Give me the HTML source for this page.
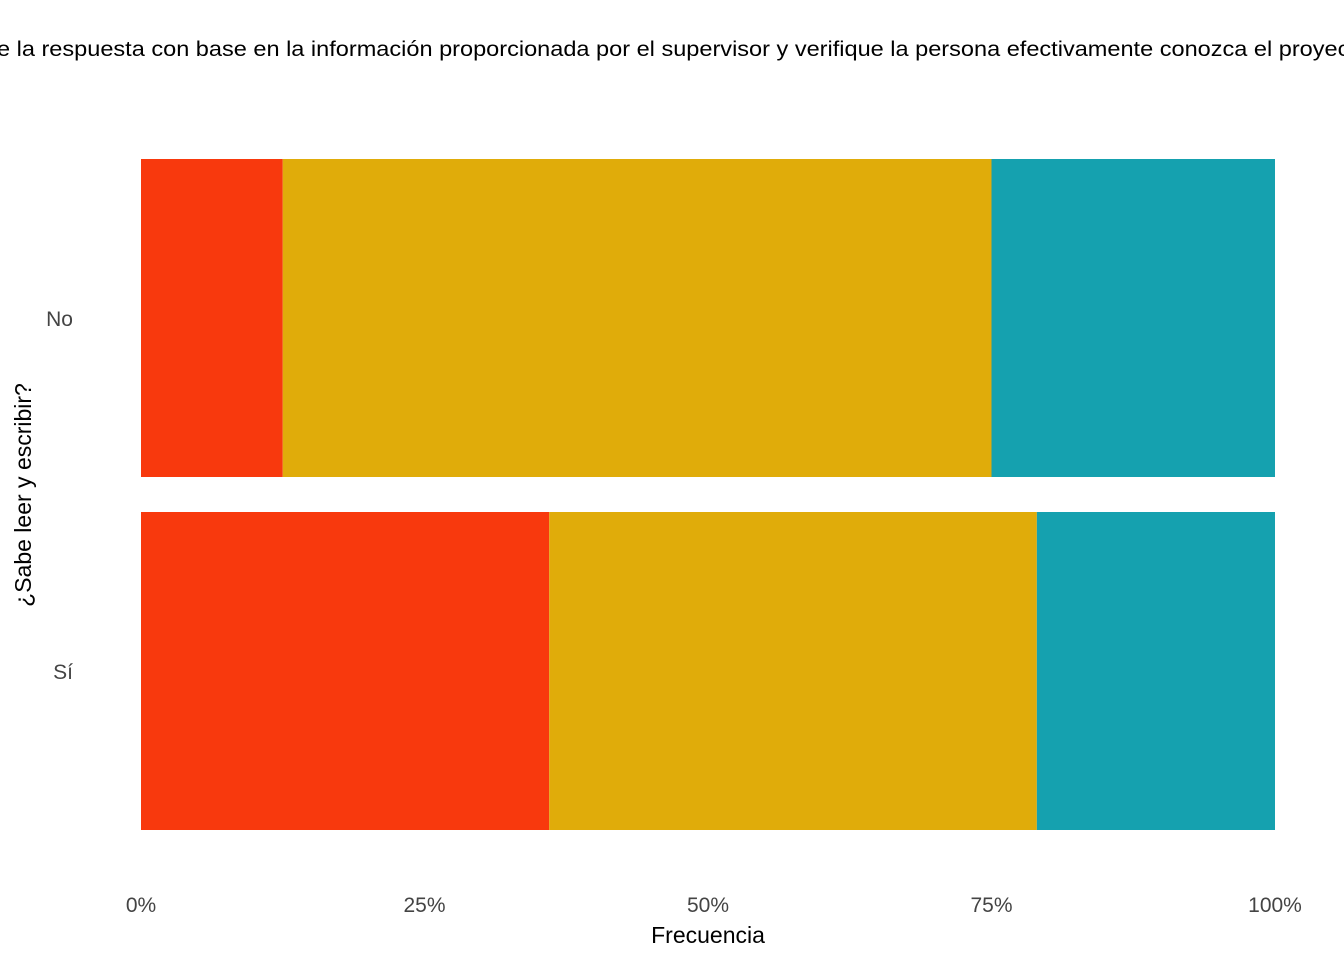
<!DOCTYPE html>
<html><head><meta charset="utf-8"><style>
html,body{margin:0;padding:0;background:#fff;overflow:hidden}
svg{display:block;font-family:"Liberation Sans",sans-serif}
</style></head><body>
<svg id="chart" width="1344" height="960">
<text x="-3" y="56" font-size="21" textLength="1372" lengthAdjust="spacingAndGlyphs" fill="#000">e la respuesta con base en la información proporcionada por el supervisor y verifique la persona efectivamente conozca el proyecto</text>
<g id="bars"></g>
<g id="yticks"></g>
<g id="xticks"></g>
<text x="708" y="943" font-size="23" text-anchor="middle" fill="#000">Frecuencia</text>
<text transform="translate(31,495) rotate(-90)" font-size="23" text-anchor="middle" fill="#000">¿Sabe leer y escribir?</text>
</svg>
<script>
const categories=["No","Sí"];
const seriesA=[12.5,36.0];
const seriesB=[62.5,43.0];
const seriesC=[25.0,21.0];
const xTickValues=[0,25,50,75,100];
const xTickLabels=["0%","25%","50%","75%","100%"];
const colors=["#F8390D","#E0AC0A","#15A1AF"];
const ns="http://www.w3.org/2000/svg";
const x0=141,x1=1275;
const xs=v=>x0+(x1-x0)*v/100;
const bandTop=[159,512],bandH=318;
const yb=i=>bandTop[0]+i*(bandTop[1]-bandTop[0]);
const bars=document.getElementById('bars');
const series=[seriesA,seriesB,seriesC];
categories.forEach((c,i)=>{
  let acc=0;
  series.forEach((s,k)=>{
    const r=document.createElementNS(ns,'rect');
    r.setAttribute('x',xs(acc));r.setAttribute('width',xs(acc+s[i])-xs(acc));
    r.setAttribute('y',yb(i));r.setAttribute('height',bandH);r.setAttribute('fill',colors[k]);
    
    
    bars.appendChild(r);acc+=s[i];
  });
  const t=document.createElementNS(ns,'text');
  t.setAttribute('x',73);t.setAttribute('y',yb(i)+bandH/2+8);t.setAttribute('text-anchor','end');
  t.setAttribute('font-size','21');t.setAttribute('fill','#444');t.textContent=c;
  
  
  document.getElementById('yticks').appendChild(t);
});
xTickValues.forEach((v,i)=>{
  const t=document.createElementNS(ns,'text');
  t.setAttribute('x',xs(v));t.setAttribute('y',912);t.setAttribute('text-anchor','middle');
  t.setAttribute('font-size','21');t.setAttribute('fill','#444');t.textContent=xTickLabels[i];
  
  
  document.getElementById('xticks').appendChild(t);
});
</script>
</body></html>
